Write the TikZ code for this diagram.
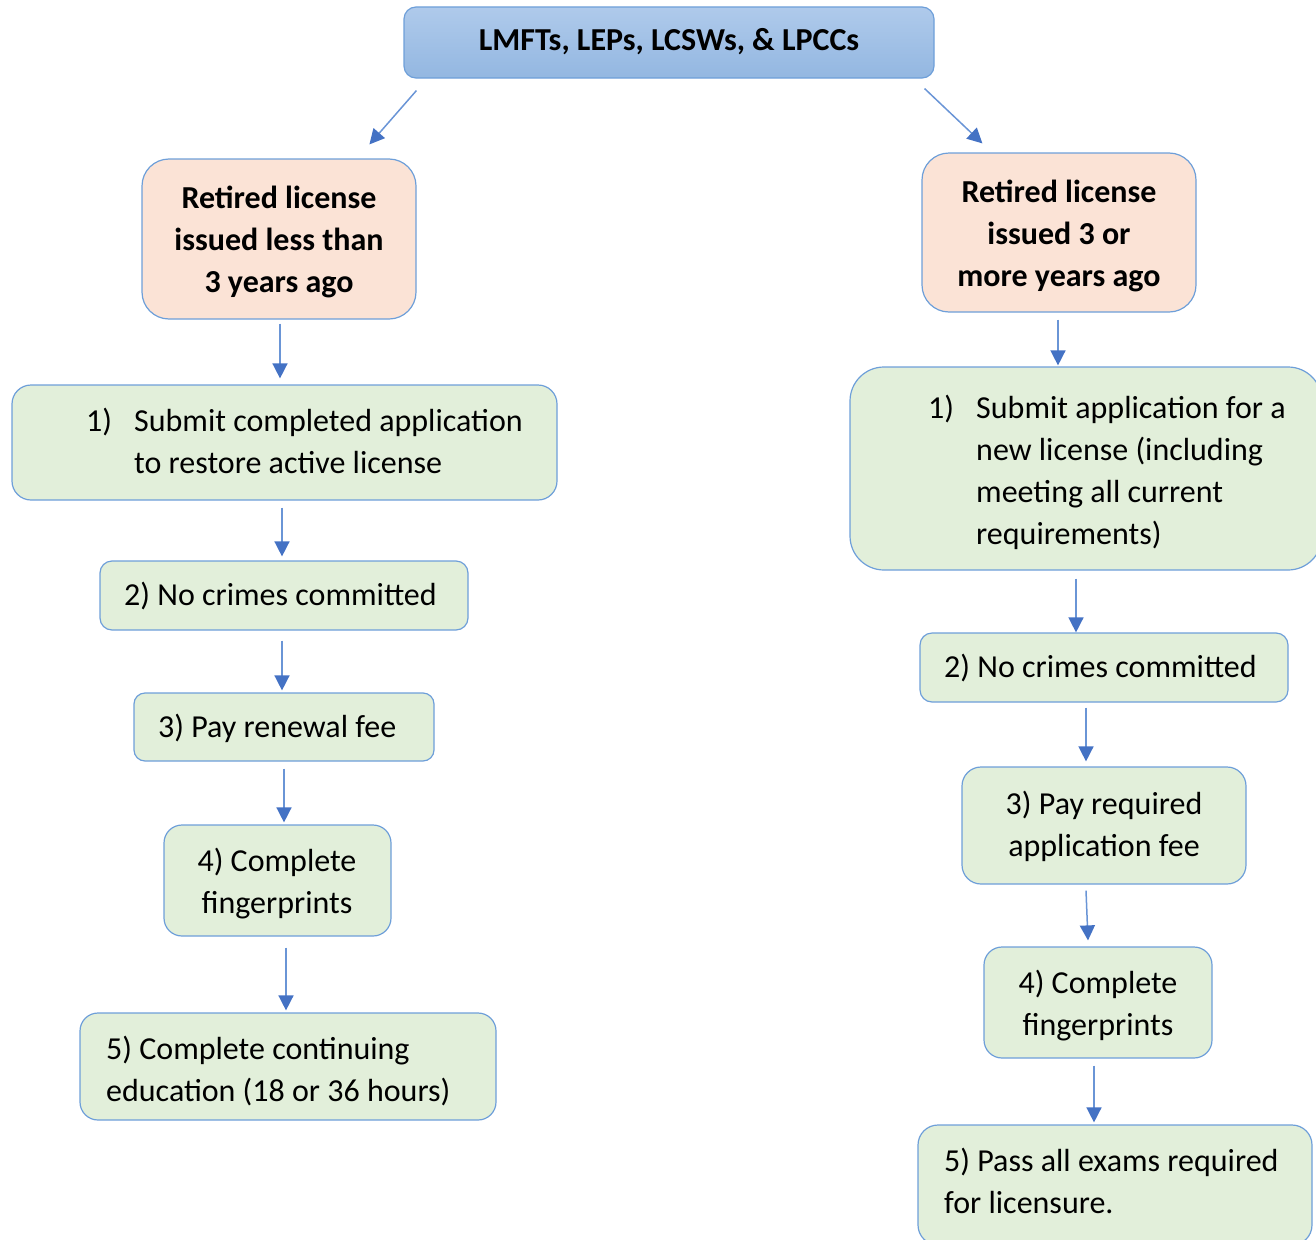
\documentclass[tikz,border=0pt]{standalone}
\usepackage{fontspec}
\setmainfont{Carlito}
\usetikzlibrary{arrows.meta}
\definecolor{edgec}{HTML}{6E9FD9}
\definecolor{greenfill}{HTML}{E2EFDA}
\definecolor{orangefill}{HTML}{FBE3D6}
\definecolor{topA}{HTML}{AFCAEB}
\definecolor{topB}{HTML}{93B7E1}
\definecolor{arrowc}{HTML}{4472C4}
\definecolor{shaftc}{HTML}{6A95D6}
\begin{document}
\begin{tikzpicture}[x=1pt,y=-1pt,
  box/.style={draw=edgec, line width=1.2pt, inner sep=0pt},
  gbox/.style={box, fill=greenfill},
  obox/.style={box, fill=orangefill},
  txt/.style={font=\fontsize{32}{42}\selectfont, inner sep=0pt, text=black},
  btxt/.style={txt, font=\fontsize{32}{42}\selectfont\bfseries},
  arr/.style={draw=shaftc, line width=1.5pt, -{Triangle[length=15pt,width=15pt,color=arrowc]}}]
\useasboundingbox (0,0) rectangle (1316,1239);

% boxes
\node[box, top color=topA, bottom color=topB, minimum width=530pt, minimum height=71pt, rounded corners=12pt] (T) at (669,42.5) {};
\node[obox, minimum width=274pt, minimum height=160pt, rounded corners=27pt] (oL) at (279,239) {};
\node[obox, minimum width=274pt, minimum height=159pt, rounded corners=27pt] (oR) at (1059,232.5) {};
\node[gbox, minimum width=545pt, minimum height=115pt, rounded corners=19pt] (L1) at (284.5,442.5) {};
\node[gbox, minimum width=368pt, minimum height=69pt, rounded corners=12pt] (L2) at (284,595.5) {};
\node[gbox, minimum width=300pt, minimum height=68pt, rounded corners=11pt] (L3) at (284,727) {};
\node[gbox, minimum width=227pt, minimum height=111pt, rounded corners=18pt] (L4) at (277.5,880.5) {};
\node[gbox, minimum width=416pt, minimum height=107pt, rounded corners=18pt] (L5) at (288,1066.5) {};
\node[gbox, minimum width=472pt, minimum height=203pt, rounded corners=34pt] (R1) at (1086,468.5) {};
\node[gbox, minimum width=368pt, minimum height=69pt, rounded corners=12pt] (R2) at (1104,667.5) {};
\node[gbox, minimum width=284pt, minimum height=117pt, rounded corners=19pt] (R3) at (1104,825.5) {};
\node[gbox, minimum width=228pt, minimum height=111pt, rounded corners=18pt] (R4) at (1098,1002.5) {};
\node[gbox, minimum width=394pt, minimum height=120pt, rounded corners=20pt] (R5) at (1115,1185) {};

% texts (multi-line nodes: base anchor = baseline of the last line)
\node[btxt, anchor=base] (tT) at (669,51) {LMFTs, LEPs, LCSWs, \& LPCCs};
\node[btxt, anchor=base, align=center] (toL) at (279,292) {Retired license\\issued less than\\3 years ago};
\node[btxt, anchor=base, align=center] (toR) at (1059,286) {Retired license\\issued 3 or\\more years ago};
\node[txt, anchor=base west] (nL1) at (86,431) {1)};
\node[txt, anchor=base west, align=left] (tL1) at (134,473) {Submit completed application\\to restore active license};
\node[txt, anchor=base west] (tL2) at (124,605) {2) No crimes committed};
\node[txt, anchor=base west] (tL3) at (158,737) {3) Pay renewal fee};
\node[txt, anchor=base, align=center] (tL4) at (277,913) {4) Complete\\fingerprints};
\node[txt, anchor=base west, align=left] (tL5) at (106,1101) {5) Complete continuing\\education (18 or 36 hours)};
\node[txt, anchor=base west] (nR1) at (928,418) {1)};
\node[txt, anchor=base west, align=left] (tR1) at (976,544) {Submit application for a\\new license (including\\meeting all current\\requirements)};
\node[txt, anchor=base west] (tR2) at (944,677) {2) No crimes committed};
\node[txt, anchor=base, align=center] (tR3) at (1104,856) {3) Pay required\\application fee};
\node[txt, anchor=base, align=center] (tR4) at (1098,1035) {4) Complete\\fingerprints};
\node[txt, anchor=base west, align=left] (tR5) at (944,1213) {5) Pass all exams required\\for licensure.};

% connectors
\draw[arr] ([shift={(13,12)}]T.south west) -- ([shift={(228,-14)}]oL.north west);
\draw[arr] ([shift={(-10,10)}]T.south east) -- ([shift={(61,-9)}]oR.north west);
\draw[arr] ([shift={(1,4)}]oL.south) -- ([shift={(-4.5,-6)}]L1.north);
\draw[arr] ([shift={(-2.5,7)}]L1.south) -- ([shift={(-2,-4)}]L2.north);
\draw[arr] ([shift={(-2,10)}]L2.south) -- ([shift={(-2,-2)}]L3.north);
\draw[arr] ([shift={(0,7)}]L3.south) -- ([shift={(6.5,-2)}]L4.north);
\draw[arr] ([shift={(8.5,11)}]L4.south) -- ([shift={(-2,-2)}]L5.north);
\draw[arr] ([shift={(-1,7)}]oR.south) -- ([shift={(-28,-1)}]R1.north);
\draw[arr] ([shift={(-10,8)}]R1.south) -- ([shift={(-28,0)}]R2.north);
\draw[arr] ([shift={(-18,5)}]R2.south) -- ([shift={(-18,-5)}]R3.north);
\draw[arr] ([shift={(-18,6)}]R3.south) -- ([shift={(-10,-6)}]R4.north);
\draw[arr] ([shift={(-4,7)}]R4.south) -- ([shift={(-21,-2)}]R5.north);
\end{tikzpicture}
\end{document}
